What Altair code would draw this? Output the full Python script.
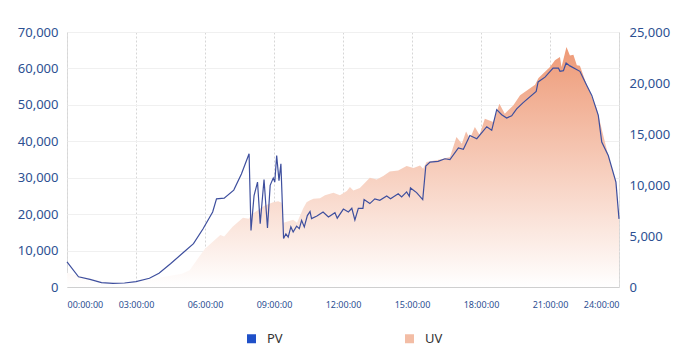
import altair as alt
import pandas as pd

PV_TIME = ["00:00","00:30","01:00","01:30","02:00","02:30","03:00","03:35","04:00","04:30",
           "05:05","05:30","05:55","06:20","06:30","06:50","07:15","07:35","07:55","08:00",
           "08:08","08:17","08:24","08:34","08:43","08:50","08:58","09:02","09:07","09:13",
           "09:18","09:25","09:31","09:37","09:44","09:50","09:59","10:06","10:12","10:19",
           "10:27","10:34","10:38","10:52","11:08","11:22","11:39","11:45","12:01","12:14",
           "12:23","12:31","12:40","12:52","12:55","13:10","13:23","13:36","13:54","14:04",
           "14:24","14:33","14:46","14:53","14:56","15:12","15:28","15:36","15:47","16:08",
           "16:26","16:39","17:01","17:14","17:31","17:49","18:15","18:28","18:41","18:54",
           "19:07","19:20","19:33","19:50","20:24","20:29","20:47","21:08","21:22","21:26",
           "21:35","21:42","21:52","22:18","22:36","22:49","23:06","23:15","23:32","23:52",
           "24:00"]
PV_VALUE = [6900, 2800, 2100, 1200, 1000, 1100, 1500, 2400, 3800, 6400,
            9600, 11900, 16000, 20600, 24200, 24400, 26600, 31000, 36600, 15500,
            25100, 28800, 17400, 29500, 16200, 27900, 29900, 28800, 36100, 29200,
            33800, 13300, 14600, 13700, 16500, 15100, 16700, 16000, 18300, 16500,
            19600, 20700, 18800, 19500, 20600, 19200, 20400, 18900, 21400, 20600,
            21600, 18400, 21600, 21600, 24000, 22900, 24200, 23800, 25000, 24200,
            25600, 24700, 26100, 24900, 27200, 25900, 24000, 33200, 34300, 34500,
            35200, 35000, 38200, 37800, 41600, 40700, 44000, 43000, 48700, 47300,
            46400, 47000, 48900, 50600, 53700, 56300, 57600, 60100, 60100, 59200,
            59400, 61500, 60700, 59200, 55300, 52600, 47100, 39800, 36100, 28800,
            18700]

UV_TIME = ["00:00","01:00","02:00","03:00","04:00","05:00","05:20","05:47","06:00","06:40",
           "06:50","07:12","07:39","07:54","08:05","08:36","08:58","09:11","09:20","09:25",
           "09:50","10:00","10:16","10:25","10:34","10:43","11:00","11:13","11:35","11:52",
           "12:10","12:18","12:27","12:44","13:10","13:28","13:45","14:02","14:24","14:46",
           "15:04","15:21","15:29","15:38","16:13","16:39","16:56","17:10","17:21","17:31",
           "17:44","17:56","18:10","18:32","18:48","19:02","19:24","19:42","20:21","20:30",
           "20:47","21:00","21:13","21:26","21:30","21:43","21:52","22:01","22:10","22:18",
           "22:36","23:02","23:19","23:32","23:52","24:00"]
UV_VALUE = [1400, 800, 500, 500, 900, 1300, 1630, 3100, 3750, 5100,
            4950, 5900, 6800, 6700, 7200, 8000, 8300, 8400, 8250, 6300,
            6600, 6300, 7700, 8300, 8500, 8660, 8700, 9000, 9250, 9000,
            9400, 9800, 9470, 9700, 10700, 10550, 10880, 11330, 11430, 11860,
            11670, 11900, 11600, 12250, 12510, 12740, 14700, 14050, 15250, 14540,
            15690, 14930, 16500, 16180, 17970, 16990, 17800, 18790, 19830, 20500,
            21100, 21570, 22220, 22550, 21570, 23530, 22700, 22770, 21730, 21700,
            19770, 17480, 14860, 12900, 10300, 6700]

SERIES = ["PV", "UV"]
X_TICKS = list(range(0, 25, 3))
PV_TICKS = list(range(0, 70001, 10000))
UV_TICKS = list(range(0, 25001, 5000))


def to_hours(t):
    h, m = t.split(":")
    return int(h) + int(m) / 60.0


pv = pd.DataFrame({"h": [to_hours(t) for t in PV_TIME], "PV": PV_VALUE})
uv = pd.DataFrame({"h": [to_hours(t) for t in UV_TIME], "UV": UV_VALUE})
leg = pd.DataFrame({"series": SERIES})

FONT = "Noto Sans"
AXIS_BLUE = "#2c5092"

x_enc = alt.X(
    "h:Q",
    scale=alt.Scale(domain=[0, 24], nice=False, zero=False),
    axis=alt.Axis(
        values=X_TICKS,
        labelExpr="(datum.value < 10 ? '0' : '') + datum.value + ':00:00'",
        title=None,
        grid=True,
        gridColor="#d6d6d6",
        gridDash=[2, 2],
        ticks=False,
        domainColor="#cfcfcf",
        labelColor=AXIS_BLUE,
        labelFontSize=9,
        labelPadding=13,
        labelFont=FONT,
    ),
)

area = alt.Chart(uv).mark_area(
    fill=alt.Gradient(
        gradient="linear",
        stops=[
            alt.GradientStop(color="#ee9a77", offset=0),
            alt.GradientStop(color="#ffffff", offset=1),
        ],
        x1=1, x2=1, y1=0, y2=1,
    ),
    interpolate="linear",
).encode(
    x=x_enc,
    y=alt.Y(
        "UV:Q",
        scale=alt.Scale(domain=[0, 25000], nice=False),
        axis=alt.Axis(
            orient="right",
            values=UV_TICKS,
            format=",d",
            title=None,
            grid=False,
            ticks=False,
            domain=False,
            labelColor=AXIS_BLUE,
            labelFontSize=13,
            labelPadding=10,
            labelFont=FONT,
        ),
    ),
)

line = alt.Chart(pv).mark_line(color="#3e4f9e", strokeWidth=1.2).encode(
    x=x_enc,
    y=alt.Y(
        "PV:Q",
        scale=alt.Scale(domain=[0, 70000], nice=False),
        axis=alt.Axis(
            orient="left",
            values=PV_TICKS,
            format=",d",
            title=None,
            grid=True,
            gridColor="#f0f0f0",
            ticks=False,
            domain=False,
            labelColor=AXIS_BLUE,
            labelFontSize=13,
            labelPadding=9,
            labelFont=FONT,
        ),
    ),
)

legend_layer = alt.Chart(leg).mark_square(opacity=0).encode(
    color=alt.Color(
        "series:N",
        scale=alt.Scale(domain=SERIES, range=["#1f50c8", "#f3bda5"]),
        title=None,
        legend=alt.Legend(
            orient="none",
            legendX=178,
            legendY=300,
            direction="horizontal",
            symbolType="square",
            symbolSize=81,
            symbolOpacity=1,
            symbolStrokeWidth=0,
            labelFontSize=13,
            labelColor="#333333",
            labelFont=FONT,
            labelOffset=9,
            columnPadding=120,
        ),
    )
)

chart = alt.layer(area, line, legend_layer).resolve_scale(
    y="independent"
).properties(
    width=552,
    height=255,
    padding={"left": 9, "top": 18, "right": 5, "bottom": 5},
).configure_view(stroke=None).configure(background="white")

chart.save("out.html", embed_options={"renderer": "svg", "actions": False})
